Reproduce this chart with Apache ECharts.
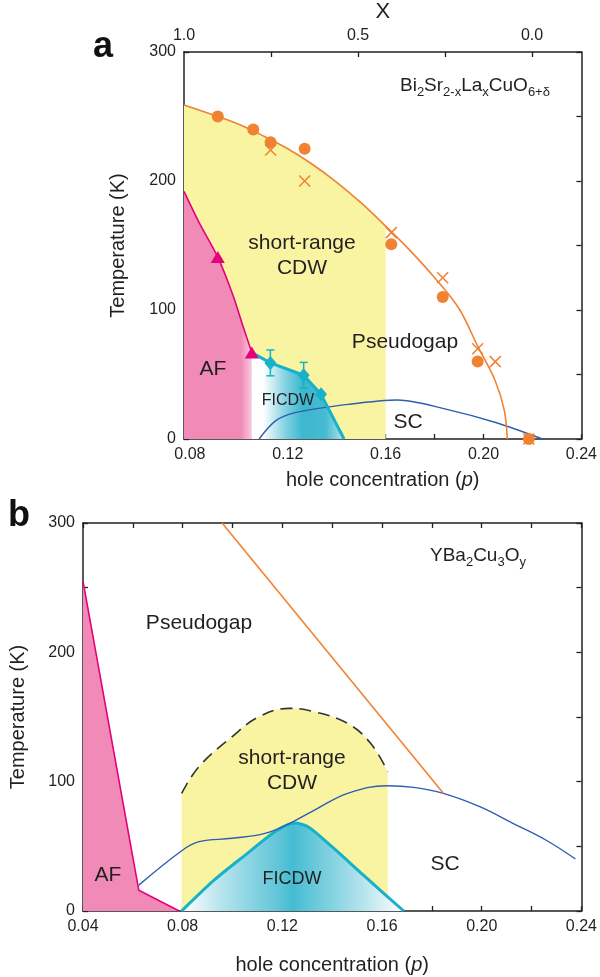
<!DOCTYPE html>
<html>
<head>
<meta charset="utf-8">
<script src="https://cdn.jsdelivr.net/npm/echarts@6/dist/echarts.min.js"></script>
<style>html,body{margin:0;padding:0;background:#fff}#c{width:600px;height:977px}</style>
</head>
<body>
<div id="c"></div>
<script>
// ---------- Panel a : Bi2Sr2-xLaxCuO6+d ----------
const pgCurveP = [0.0776,0.09,0.10,0.11,0.12,0.13,0.14,0.15,0.16,0.17,0.18,0.19,0.1976,0.2048,0.2085,0.2097];
const pgCurveT = [259,251,244,235,225,213,199,183,165,146,125,101,72,45,22,0];
const cdwEdgeA = 0.16;
const circP = [0.0914,0.1059,0.113,0.1269,0.1623,0.1833,0.1976,0.2185];
const circT = [250,240,230,225,151,110,60,0];
const crossP = [0.113,0.1269,0.1623,0.1833,0.1976,0.2048,0.2185];
const crossT = [224,200,160,125,70,60,0];
const afCurveP = [0.0776,0.084,0.0914,0.0975,0.1016,0.1053];
const afCurveT = [192,167,141,112,88,67];
const afFadeP = 0.109, afFadeT = 64;
const afTriP = [0.0914,0.1053];
const afTriT = [141,67];
const ficdwP = [0.1053,0.1129,0.1265,0.1336,0.143];
const ficdwT = [67,59,49.4,34.6,0];
const diaP = [0.1129,0.1265,0.1336];
const diaT = [59,49.4,34.6];
const diaErr = [10,10,0];
const scAP = [0.1083,0.115,0.1231,0.1446,0.1649,0.185,0.2053,0.2241];
const scAT = [0,14,20.4,26.8,30.2,23,12.6,0];
const pTicksA = [0.08,0.10,0.12,0.14,0.16,0.18,0.20,0.22,0.24];
const pLabelsA = [0.08,0.12,0.16,0.20,0.24];
const xTicks = [0.75,0.5,0.25,0.0];
const xLabels = [1.0,0.5,0.0];

// ---------- Panel b : YBa2Cu3Oy ----------
const afBP = [0.04,0.0624,0.0786];
const afBT = [255,16,0];
const cdwBP = [0.0796,0.0865,0.0998,0.1104,0.1227,0.1329,0.1462,0.1554,0.1623];
const cdwBT = [91,111.6,134.7,150,156.7,154,145,129.7,107.7];
const ficdwBP = [0.0796,0.0927,0.106,0.117,0.1249,0.1303,0.1399,0.1532,0.1687];
const ficdwBT = [0,24,44.6,61.3,68,65.2,49.7,26.5,0];
const pgBP = [0.0958,0.1846];
const pgBT = [300,91];
const scBP = [0.0624,0.0799,0.0866,0.0998,0.113,0.123,0.1329,0.1462,0.1621,0.1727,0.1846,0.1992,0.2125,0.2257,0.2376];
const scBT = [20,47,53.6,56.2,60,67.8,78,91,96.9,95.6,91,80.7,67.8,54.9,40.2];

const zip = (a,b) => a.map((v,i)=>[v,b[i]]);
const INK = '#231f20', ORANGE = '#f08232', BLUE = '#2f5db0', MAG = '#e4007f', PINK = '#f18ab7', YEL = '#f8f4a2', CYAN = '#17b1c8';
const FF = 'Liberation Sans, Arial, sans-serif';

function ax(extra){
  const base = {
    axisLine:{show:true,onZero:false,lineStyle:{color:INK,width:1.5}},
    axisTick:{show:true,inside:true,length:5,lineStyle:{color:INK,width:1.3}},
    splitLine:{show:false},
    axisLabel:{color:INK,fontSize:16,fontFamily:FF,margin:8},
    nameTextStyle:{color:INK,fontSize:20,fontFamily:FF}
  };
  for (const k in extra){
    if (typeof extra[k]==='object' && !Array.isArray(extra[k]) && base[k]) base[k] = Object.assign({}, base[k], extra[k]);
    else base[k] = extra[k];
  }
  return base;
}
const hgrad = (stops) => ({type:'linear',x:0,y:0,x2:1,y2:0,colorStops:stops.map(s=>({offset:s[0],color:s[1]}))});

const option = {
  animation:false,
  backgroundColor:'#fff',
  grid:[
    {left:184,top:51,width:402,height:388},
    {left:83,top:523,width:503,height:388}
  ],
  xAxis:[
    ax({gridIndex:0,type:'value',position:'bottom',min:0.0776,max:0.24,
      axisTick:{customValues:pTicksA},
      axisLabel:{customValues:pLabelsA,formatter:v=>v.toFixed(2)},
      name:'hole concentration ({i|p})',nameLocation:'middle',nameGap:31,
      nameTextStyle:{rich:{i:{fontStyle:'italic',fontSize:20,fontFamily:FF,color:INK}}}}),
    ax({gridIndex:0,type:'value',position:'top',min:-0.142,max:1.0,inverse:true,
      axisTick:{customValues:xTicks},
      axisLabel:{customValues:xLabels,formatter:v=>v.toFixed(1)},
      name:'X',nameLocation:'middle',nameGap:29,nameTextStyle:{fontSize:22}}),
    ax({gridIndex:1,type:'value',position:'bottom',min:0.04,max:0.24,interval:0.02,
      axisLabel:{formatter:v=>(Math.round(v*100)%4===0?v.toFixed(2):'')},
      name:'hole concentration ({i|p})',nameLocation:'middle',nameGap:44,
      nameTextStyle:{rich:{i:{fontStyle:'italic',fontSize:20,fontFamily:FF,color:INK}}}}),
    ax({gridIndex:1,type:'value',position:'top',min:0.04,max:0.24,interval:0.02,axisLabel:{show:false}})
  ],
  yAxis:[
    ax({gridIndex:0,type:'value',position:'left',min:0,max:300,interval:50,
      axisLabel:{formatter:v=>(v%100===0?String(v):'')},
      name:'Temperature (K)',nameLocation:'middle',nameGap:56}),
    ax({gridIndex:0,type:'value',position:'right',min:0,max:300,interval:50,axisLabel:{show:false}}),
    ax({gridIndex:1,type:'value',position:'left',min:0,max:300,interval:50,
      axisLabel:{formatter:v=>(v%100===0?String(v):'')},
      name:'Temperature (K)',nameLocation:'middle',nameGap:55}),
    ax({gridIndex:1,type:'value',position:'right',min:0,max:300,interval:50,axisLabel:{show:false}})
  ],
  series:[
    // ----- panel a -----
    {type:'line',xAxisIndex:0,yAxisIndex:0,z:1,smooth:0.35,symbol:'none',
      data:zip(pgCurveP,pgCurveT).filter(d=>d[0]<=cdwEdgeA+1e-9),
      lineStyle:{width:0},areaStyle:{color:YEL,opacity:1}},
    {type:'line',xAxisIndex:0,yAxisIndex:0,z:2,smooth:0.3,symbol:'none',
      data:zip(afCurveP,afCurveT).concat([[afFadeP,afFadeT]]),
      lineStyle:{width:0},areaStyle:{opacity:1,color:hgrad([[0,PINK],[0.74,PINK],[1,'#ffffff']])}},
    {type:'line',xAxisIndex:0,yAxisIndex:0,z:3,symbol:'none',
      data:zip(ficdwP,ficdwT),
      lineStyle:{width:0},areaStyle:{opacity:1,color:hgrad([[0,'#ffffff'],[0.12,'#ffffff'],[0.38,'#7ccfe0'],[0.55,'#3cb8cf'],[0.8,'#46bbd1'],[1,'#b5e3ed']])}},
    {type:'line',xAxisIndex:0,yAxisIndex:0,z:5,smooth:0.3,symbol:'none',
      data:zip(scAP,scAT),lineStyle:{color:BLUE,width:1.4}},
    {type:'line',xAxisIndex:0,yAxisIndex:0,z:6,smooth:0.35,symbol:'none',
      data:zip(pgCurveP,pgCurveT),lineStyle:{color:ORANGE,width:1.6}},
    {type:'line',xAxisIndex:0,yAxisIndex:0,z:6,smooth:0.3,symbol:'none',
      data:zip(afCurveP,afCurveT),lineStyle:{color:MAG,width:1.6}},
    {type:'line',xAxisIndex:0,yAxisIndex:0,z:6,symbol:'none',
      data:zip(ficdwP,ficdwT),lineStyle:{color:CYAN,width:3}},
    {type:'custom',xAxisIndex:0,yAxisIndex:0,z:7,
      data:diaP.map((p,i)=>[p,diaT[i]-diaErr[i],diaT[i]+diaErr[i]]).filter(d=>d[2]>d[1]),
      encode:{x:0,y:[1,2]},
      renderItem:(params,api)=>{
        const x=api.value(0);
        const lo=api.coord([x,api.value(1)]), hi=api.coord([x,api.value(2)]);
        const w=4, st={stroke:CYAN,lineWidth:1.5};
        return {type:'group',children:[
          {type:'line',shape:{x1:lo[0],y1:lo[1],x2:hi[0],y2:hi[1]},style:st},
          {type:'line',shape:{x1:lo[0]-w,y1:lo[1],x2:lo[0]+w,y2:lo[1]},style:st},
          {type:'line',shape:{x1:hi[0]-w,y1:hi[1],x2:hi[0]+w,y2:hi[1]},style:st}
        ]};
      }},
    {type:'scatter',xAxisIndex:0,yAxisIndex:0,z:8,symbol:'diamond',symbolSize:[12,14],
      data:zip(diaP,diaT),itemStyle:{color:CYAN,opacity:1}},
    {type:'scatter',xAxisIndex:0,yAxisIndex:0,z:8,symbol:'triangle',symbolSize:[14,12],
      data:zip(afTriP,afTriT),itemStyle:{color:MAG,opacity:1}},
    {type:'scatter',xAxisIndex:0,yAxisIndex:0,z:8,symbol:'circle',symbolSize:12,clip:false,
      data:zip(circP,circT),itemStyle:{color:ORANGE,opacity:1}},
    {type:'scatter',xAxisIndex:0,yAxisIndex:0,z:8,symbol:'path://M0,0L10,10M10,0L0,10',symbolSize:11,clip:false,
      data:zip(crossP,crossT),itemStyle:{color:'none',borderColor:ORANGE,borderWidth:1.5,opacity:1}},
    // ----- panel b -----
    {type:'line',xAxisIndex:2,yAxisIndex:2,z:1,smooth:0.4,symbol:'none',
      data:zip(cdwBP,cdwBT),
      lineStyle:{color:'#333',width:1.6,type:[12,7]},areaStyle:{color:YEL,opacity:1}},
    {type:'line',xAxisIndex:2,yAxisIndex:2,z:2,symbol:'none',
      data:zip(afBP,afBT),
      lineStyle:{color:MAG,width:1.6},areaStyle:{color:PINK,opacity:1}},
    {type:'line',xAxisIndex:2,yAxisIndex:2,z:3,smooth:0.25,symbol:'none',
      data:zip(ficdwBP,ficdwBT),
      lineStyle:{color:CYAN,width:3},
      areaStyle:{opacity:1,color:hgrad([[0,'#ffffff'],[0.18,'#b6e4ed'],[0.44,'#5ec5d8'],[0.5,'#45bcd2'],[0.57,'#5ec5d8'],[0.82,'#b6e4ed'],[1,'#ffffff']])}},
    {type:'line',xAxisIndex:2,yAxisIndex:2,z:5,smooth:0.4,symbol:'none',
      data:zip(scBP,scBT),lineStyle:{color:BLUE,width:1.4}},
    {type:'line',xAxisIndex:2,yAxisIndex:2,z:6,symbol:'none',
      data:zip(pgBP,pgBT),lineStyle:{color:ORANGE,width:1.6}}
  ],
  graphic:[
    {type:'text',x:103,y:47,z:20,style:{text:'a',font:'bold 36px '+FF,fill:'#111',align:'center',verticalAlign:'middle'}},
    {type:'text',x:19,y:516,z:20,style:{text:'b',font:'bold 36px '+FF,fill:'#111',align:'center',verticalAlign:'middle'}},
    {type:'text',x:400,y:86,z:20,style:{
      text:'{n|Bi}{s|2}{n|Sr}{s|2-x}{n|La}{s|x}{n|CuO}{s|6+δ}',align:'left',verticalAlign:'middle',
      rich:{n:{fontSize:19,fontFamily:FF,fill:INK,lineHeight:26},s:{fontSize:13,fontFamily:FF,fill:INK,lineHeight:14,verticalAlign:'bottom'}}}},
    {type:'text',x:430,y:556,z:20,style:{
      text:'{n|YBa}{s|2}{n|Cu}{s|3}{n|O}{s|y}',align:'left',verticalAlign:'middle',
      rich:{n:{fontSize:19,fontFamily:FF,fill:INK,lineHeight:26},s:{fontSize:13,fontFamily:FF,fill:INK,lineHeight:14,verticalAlign:'bottom'}}}},
    {type:'text',x:302,y:256,z:20,style:{text:'short-range\nCDW',font:'21px '+FF,fill:INK,align:'center',verticalAlign:'middle',lineHeight:25}},
    {type:'text',x:405,y:342,z:20,style:{text:'Pseudogap',font:'21px '+FF,fill:INK,align:'center',verticalAlign:'middle'}},
    {type:'text',x:213,y:369,z:20,style:{text:'AF',font:'21px '+FF,fill:INK,align:'center',verticalAlign:'middle'}},
    {type:'text',x:288,y:401,z:20,style:{text:'FICDW',font:'16px '+FF,fill:INK,align:'center',verticalAlign:'middle'}},
    {type:'text',x:408,y:422,z:20,style:{text:'SC',font:'21px '+FF,fill:INK,align:'center',verticalAlign:'middle'}},
    {type:'text',x:199,y:623,z:20,style:{text:'Pseudogap',font:'21px '+FF,fill:INK,align:'center',verticalAlign:'middle'}},
    {type:'text',x:292,y:771,z:20,style:{text:'short-range\nCDW',font:'21px '+FF,fill:INK,align:'center',verticalAlign:'middle',lineHeight:25}},
    {type:'text',x:292,y:879,z:20,style:{text:'FICDW',font:'18px '+FF,fill:INK,align:'center',verticalAlign:'middle'}},
    {type:'text',x:445,y:864,z:20,style:{text:'SC',font:'21px '+FF,fill:INK,align:'center',verticalAlign:'middle'}},
    {type:'text',x:108,y:875,z:20,style:{text:'AF',font:'21px '+FF,fill:INK,align:'center',verticalAlign:'middle'}}
  ]
};
const chart = echarts.init(document.getElementById('c'),null,{renderer:'canvas'});
chart.setOption(option);
</script>
</body>
</html>
